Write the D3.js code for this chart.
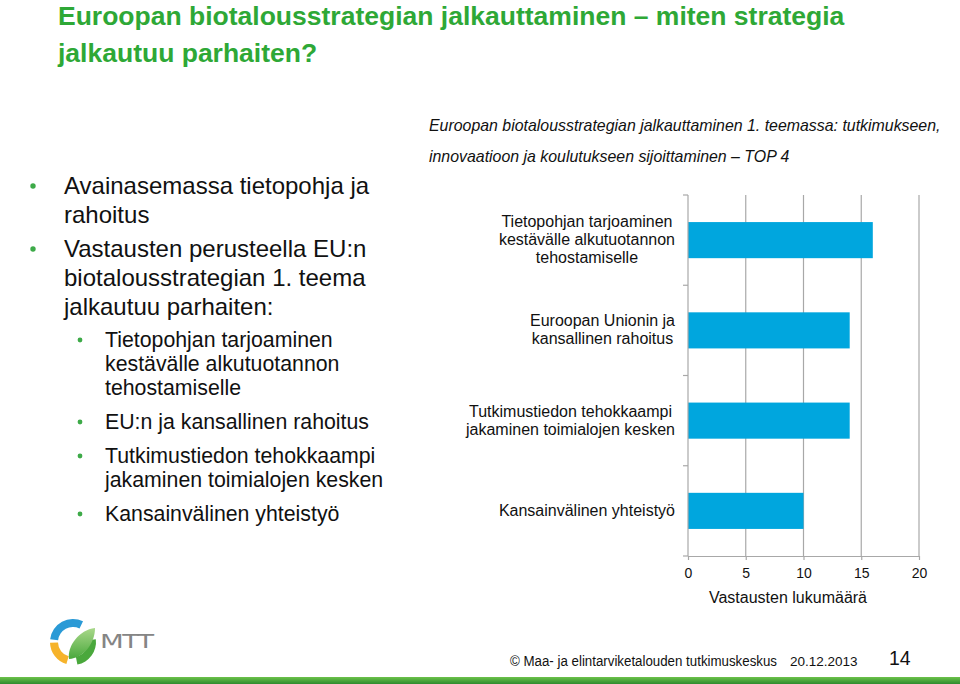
<!DOCTYPE html>
<html><head><meta charset="utf-8">
<script src="https://cdn.jsdelivr.net/npm/d3@7"></script>
<style>
html,body{margin:0;padding:0;background:#fff;}
svg{display:block;font-family:"Liberation Sans",Arial,sans-serif;}
</style></head>
<body><svg id="c" width="960" height="684"></svg>
<script>
// ---- data ----
const categories = [
  "Tietopohjan tarjoaminen kestävälle alkutuotannon tehostamiselle",
  "Euroopan Unionin ja kansallinen rahoitus",
  "Tutkimustiedon tehokkaampi jakaminen toimialojen kesken",
  "Kansainvälinen yhteistyö"
];
const categoryLines = [
  ["Tietopohjan tarjoaminen", "kestävälle alkutuotannon", "tehostamiselle"],
  ["Euroopan Unionin ja", "kansallinen rahoitus"],
  ["Tutkimustiedon tehokkaampi", "jakaminen toimialojen kesken"],
  ["Kansainvälinen yhteistyö"]
];
const values = [16, 14, 14, 10];
const xTicks = [0, 5, 10, 15, 20];
const xTitle = "Vastausten lukumäärä";
const chartTitle = ["Euroopan biotalousstrategian jalkauttaminen 1. teemassa: tutkimukseen,",
                    "innovaatioon ja koulutukseen sijoittaminen – TOP 4"];
const slideTitle = ["Euroopan biotalousstrategian jalkauttaminen – miten strategia",
                    "jalkautuu parhaiten?"];
const mainBullets = [["Avainasemassa tietopohja ja", "rahoitus"],
                     ["Vastausten perusteella EU:n", "biotalousstrategian 1. teema", "jalkautuu parhaiten:"]];
const subBullets = [["Tietopohjan tarjoaminen", "kestävälle alkutuotannon", "tehostamiselle"],
                    ["EU:n ja kansallinen rahoitus"],
                    ["Tutkimustiedon tehokkaampi", "jakaminen toimialojen kesken"],
                    ["Kansainvälinen yhteistyö"]];
const footer = {org: "© Maa- ja elintarviketalouden tutkimuskeskus", date: "20.12.2013", page: "14"};

// ---- drawing ----
const svg = d3.select("#c");
const green = "#2ea836";

// slide title
svg.append("g").selectAll("text").data(slideTitle).join("text")
  .attr("x", 58).attr("y", (d,i)=>25 + i*37)
  .attr("font-size", 26.5).attr("font-weight", "bold").attr("fill", green)
  .text(d=>d);

// bullets
const bl = svg.append("g");
let y = 194;
mainBullets.forEach((lines) => {
  bl.append("circle").attr("cx", 33).attr("cy", y-8).attr("r", 2.7).attr("fill", "#3daa48");
  lines.forEach((l, li) => {
    bl.append("text").attr("x", 64).attr("y", y + li*29).attr("font-size", 24).attr("fill", "#111").text(l);
  });
  y += lines.length*29 + 5;
});
y = 347;
subBullets.forEach((lines) => {
  bl.append("circle").attr("cx", 80).attr("cy", y-7).attr("r", 2.4).attr("fill", "#3daa48");
  lines.forEach((l, li) => {
    bl.append("text").attr("x", 105).attr("y", y + li*24).attr("font-size", 21.3).attr("fill", "#111").text(l);
  });
  y += lines.length*24 + 10;
});

// chart title
svg.append("g").selectAll("text").data(chartTitle).join("text")
  .attr("x", 429).attr("y", (d,i)=>131 + i*31)
  .attr("font-size", 15.9).attr("font-style", "italic").attr("fill", "#111")
  .text(d=>d);

// scales
const x = d3.scaleLinear().domain([0, 20]).range([688, 919]);
const yb = d3.scaleBand().domain(categories).range([195, 556]).paddingInner(0.6).paddingOuter(0.3);
const gridColor = "#a8a8a8";

// gridlines
svg.append("g").selectAll("line").data(xTicks.slice(1)).join("line")
  .attr("x1", d=>x(d)).attr("x2", d=>x(d)).attr("y1", 195).attr("y2", 556)
  .attr("stroke", gridColor).attr("stroke-width", 1.2);

// bars
svg.append("g").selectAll("rect").data(values).join("rect")
  .attr("x", x(0)).attr("y", (d,i)=>yb(categories[i]))
  .attr("width", d=>x(d)-x(0)).attr("height", yb.bandwidth())
  .attr("fill", "#00a6de");

// y axis line + ticks between categories
const ya = svg.append("g");
ya.append("line").attr("x1", x(0)).attr("x2", x(0)).attr("y1", 195).attr("y2", 556)
  .attr("stroke", gridColor).attr("stroke-width", 1.2);
const step = yb.step();
const boundaries = d3.range(categories.length + 1).map(i => 195 + i*step);
ya.selectAll("line.t").data(boundaries).join("line").attr("class","t")
  .attr("x1", x(0)-5).attr("x2", x(0)).attr("y1", d=>d).attr("y2", d=>d)
  .attr("stroke", gridColor).attr("stroke-width", 1.2);

// category labels: block right-aligned at 675, lines centered within block
const cl = svg.append("g");
const labelRight = 675;
categories.forEach((c, i) => {
  const lines = categoryLines[i];
  const cy = yb(c) + yb.bandwidth()/2;
  const lh = 18;
  const texts = lines.map((l, li) => cl.append("text")
      .attr("y", cy + (li - (lines.length-1)/2)*lh + 5)
      .attr("text-anchor", "middle").attr("font-size", 16).attr("fill", "#111").text(l));
  const maxW = d3.max(texts, t => t.node().getComputedTextLength());
  texts.forEach(t => t.attr("x", labelRight - maxW/2));
});

// x axis
const xa = svg.append("g").attr("transform", "translate(0,556)")
  .call(d3.axisBottom(x).tickValues(xTicks).tickSize(4).tickSizeOuter(0).tickPadding(8));
xa.select(".domain").attr("stroke", gridColor).attr("stroke-width", 1.2);
xa.selectAll(".tick line").attr("stroke", gridColor).attr("stroke-width", 1.2);
xa.selectAll(".tick text").attr("font-size", 14).attr("fill", "#111")
  .attr("font-family", '"Liberation Sans",Arial,sans-serif');
svg.append("text").attr("x", 788).attr("y", 603).attr("text-anchor", "middle")
  .attr("font-size", 16).attr("fill", "#111").text(xTitle);

// footer
svg.append("text").attr("x", 510).attr("y", 666).attr("font-size", 14).attr("fill", "#111")
  .attr("textLength", 267).attr("lengthAdjust", "spacingAndGlyphs").text(footer.org);
svg.append("text").attr("x", 790).attr("y", 666).attr("font-size", 13.5).attr("fill", "#111").text(footer.date);
svg.append("text").attr("x", 889).attr("y", 665).attr("font-size", 19.5).attr("fill", "#111").text(footer.page);

// bottom green bar
const defs = svg.append("defs");
const lg = defs.append("linearGradient").attr("id", "gb").attr("x1", 0).attr("y1", 0).attr("x2", 0).attr("y2", 1);
lg.append("stop").attr("offset", 0).attr("stop-color", "#6cc24a");
lg.append("stop").attr("offset", 1).attr("stop-color", "#2e8b2e");
svg.append("rect").attr("x", 0).attr("y", 677).attr("width", 960).attr("height", 7).attr("fill", "url(#gb)");

// logo
const logo = svg.append("g").attr("transform", "translate(73,642)");
const arc = d3.arc();
logo.append("path").attr("d", arc({innerRadius: 15, outerRadius: 23, startAngle: -1.45, endAngle: 0.45})).attr("fill", "#2a9ad6");
logo.append("path").attr("d", arc({innerRadius: 15, outerRadius: 23, startAngle: -2.85, endAngle: -1.6})).attr("fill", "#f6b32b");
logo.append("path").attr("d", arc({innerRadius: 15, outerRadius: 23, startAngle: 1.45, endAngle: 2.95})).attr("fill", "#4aa83c");
const lgl = defs.append("linearGradient").attr("id", "leaf").attr("x1", 0).attr("y1", 0).attr("x2", 0).attr("y2", 1);
lgl.append("stop").attr("offset", 0).attr("stop-color", "#a9d88a");
lgl.append("stop").attr("offset", 1).attr("stop-color", "#4aa83c");
logo.append("path").attr("d", "M-4,17 C-6,4 6,-12 22,-14 C22,2 10,16 -4,17 Z").attr("fill", "url(#leaf)");
svg.append("text").attr("transform", "translate(100,648) scale(1.45,1)").attr("font-size", 19).attr("fill", "#858585")
  .attr("font-family", '"DejaVu Sans",sans-serif').attr("letter-spacing", -1).text("MTT");
</script></body></html>
